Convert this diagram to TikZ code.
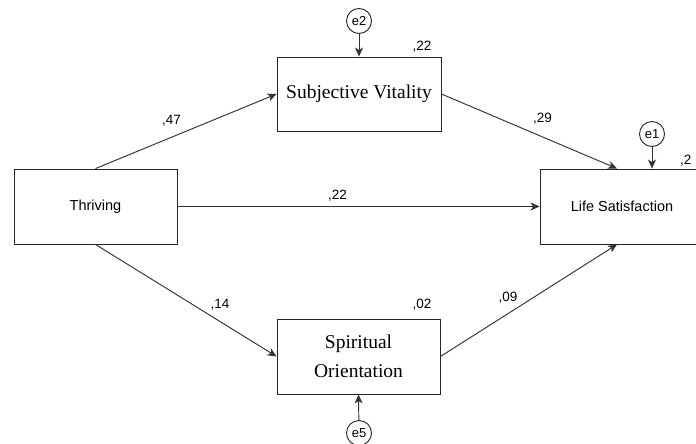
\documentclass[tikz,border=0pt]{standalone}
\usepackage{fontspec}
\setmainfont{Liberation Sans}
\newfontfamily\boxserif{Liberation Serif}
\usetikzlibrary{arrows.meta,positioning,calc}
\tikzset{
  varbox/.style={draw=black!85, line width=0.9pt, rectangle, inner sep=0pt, fill=white},
  sansbox/.style={varbox, font=\fontsize{14.5}{17}\selectfont},
  serifbox/.style={varbox, font=\boxserif\fontsize{19.5}{29}\selectfont, align=center},
  errc/.style={draw=black!85, line width=0.9pt, circle, minimum size=25pt, inner sep=0pt, font=\fontsize{13}{15}\selectfont},
  path/.style={draw=black!80, line width=0.95pt, -{Stealth[length=9pt,width=8pt,inset=2.5pt]}},
  coef/.style={anchor=base, inner sep=0pt, font=\fontsize{13.5}{16}\selectfont}
}
\begin{document}
\begin{tikzpicture}[x=1pt,y=-1pt]
\useasboundingbox (0,0) rectangle (696,444);
\clip (0,0) rectangle (696,444);
\fill[white] (0,0) rectangle (696,444);
\node[sansbox, minimum width=163pt, minimum height=75pt] (thr) at (95.5,206.5) {Thriving};
\node[serifbox, minimum width=164pt, minimum height=74pt] (sv) at (359,94) {Subjective Vitality};
\node[serifbox, minimum width=163pt, minimum height=75pt] (so) at (358.5,356.5) {Spiritual\\Orientation};
\node[sansbox, minimum width=164pt, minimum height=75pt] (ls) at (622,206.5) {Life Satisfaction};
\node[errc] (e2) at (359,21) {e2};
\node[errc] (e1) at (652,134) {e1};
\node[errc] (e5) at (359,433) {e5};
\draw[path] (thr.north) -- (sv.west);
\draw[path] (thr.east) -- (ls.west);
\draw[path] (thr.south) -- (so.west);
\draw[path] (sv.east) -- ([xshift=-5pt]ls.north);
\draw[path] (so.east) -- ([xshift=-5pt]ls.south);
\draw[path] (e2) -- (sv.north);
\draw[path] (e1) -- ([xshift=30pt]ls.north);
\draw[path] (e5) -- (so.south);
\node[coef] (c47) at (171.5,124) {,47};
\node[coef] (c22a) at (337.5,199) {,22};
\node[coef] (c14) at (220,308) {,14};
\node[coef] (c29) at (542.5,122) {,29};
\node[coef] (c09) at (508,301) {,09};
\node[coef] (r22) at (422,51) {,22};
\node[coef] (r02) at (422,308) {,02};
\node[coef, anchor=base west] (r2) at (680,164) {,2};
\end{tikzpicture}
\end{document}
